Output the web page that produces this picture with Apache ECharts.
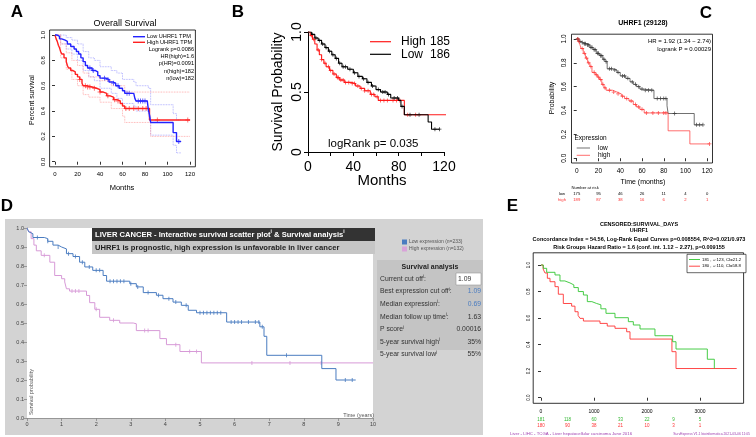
<!DOCTYPE html>
<html>
<head>
<meta charset="utf-8">
<script src="https://cdn.jsdelivr.net/npm/echarts@6/dist/echarts.min.js"></script>
<style>
html, body { margin: 0; padding: 0; background: #fff; }
#main { width: 756px; height: 437px; }
</style>
</head>
<body>
<div id="main"></div>
<script>
var FONT = "'Liberation Sans', Arial, sans-serif";

// ---- panel A (GEPIA): months -> survival, step points
var aLow = [[0,1],[2,0.99],[4,0.97],[6,0.96],[9,0.95],[11,0.93],[14,0.91],[17,0.89],[19,0.87],[21,0.85],[23,0.82],[25,0.79],[27,0.76],[29,0.74],[33,0.72],[36,0.71],[38,0.68],[40,0.66],[45,0.65],[48,0.63],[51,0.62],[54,0.60],[57,0.58],[60,0.56],[62,0.54],[70,0.53],[71,0.50],[72,0.48],[82,0.47],[83,0.41],[84,0.37],[85,0.31],[105,0.23],[108,0.16],[112,0.16]];
var aHigh = [[0,1],[1,0.97],[2,0.95],[3,0.92],[4,0.90],[5,0.87],[6,0.85],[8,0.82],[10,0.79],[11,0.76],[12,0.74],[14,0.72],[16,0.71],[18,0.69],[20,0.67],[22,0.65],[24,0.62],[25,0.60],[28,0.59],[33,0.58],[37,0.57],[40,0.55],[43,0.54],[46,0.52],[49,0.51],[52,0.49],[55,0.48],[58,0.46],[60,0.44],[62,0.42],[84,0.33],[120,0.33]];
var aLowUp = [[0,1],[5,1.0],[10,0.98],[15,0.96],[20,0.93],[25,0.87],[30,0.82],[35,0.80],[40,0.75],[50,0.72],[55,0.70],[60,0.65],[70,0.63],[72,0.60],[83,0.58],[85,0.45],[105,0.38],[108,0.33],[112,0.33]];
var aLowLo = [[0,1],[5,0.93],[10,0.89],[15,0.85],[20,0.80],[25,0.72],[30,0.67],[35,0.64],[40,0.58],[50,0.54],[55,0.50],[60,0.46],[70,0.44],[72,0.40],[83,0.36],[85,0.21],[105,0.13],[108,0.07],[112,0.07]];
var aHighUp = [[0,1],[5,0.93],[10,0.86],[15,0.80],[20,0.76],[25,0.70],[30,0.67],[40,0.64],[50,0.60],[62,0.55],[120,0.55]];
var aHighLo = [[0,1],[5,0.82],[10,0.73],[15,0.65],[20,0.60],[25,0.53],[30,0.51],[40,0.47],[50,0.42],[60,0.36],[62,0.31],[85,0.20],[120,0.20]];
var aLowCens = [31,34,44,47,52,56,64,66,74,76,78,80,110];
var aHighCens = [22,27,29,31,35,40,47,53,56,63,66,70,74,78,81,91,118];
var aTicksX = [0,20,40,60,80,100,120];
var aTicksY = [0,0.2,0.4,0.6,0.8,1.0];

// ---- panel B
var bHigh = [[0,1],[2,0.97],[4,0.94],[6,0.90],[8,0.85],[10,0.81],[12,0.77],[14,0.74],[16,0.71],[19,0.68],[22,0.65],[25,0.62],[28,0.60],[32,0.58],[38,0.57],[42,0.55],[46,0.53],[50,0.51],[55,0.48],[59,0.46],[62,0.43],[85,0.31],[123,0.31]];
var bLow = [[0,1],[3,0.98],[6,0.95],[9,0.93],[12,0.90],[15,0.87],[18,0.84],[21,0.81],[24,0.78],[27,0.74],[30,0.71],[35,0.69],[40,0.66],[44,0.63],[48,0.61],[52,0.58],[56,0.55],[60,0.52],[64,0.50],[70,0.48],[73,0.45],[80,0.43],[82,0.38],[85,0.31],[106,0.25],[109,0.19],[116,0.19]];
var bHighCens = [3,5,9,12,15,18,20,23,26,27,29,31,33,36,39,41,44,47,50,53,56,58,61,64,67,70,75,78,81,88,95,123];
var bLowCens = [4,7,10,13,16,19,22,25,28,31,33,37,41,45,49,53,57,62,66,68,71,76,79,83,90,98,112,116];

// ---- panel C (KM plotter)
var cLow = [[0,1],[2,0.98],[4,0.97],[6,0.96],[9,0.95],[12,0.93],[15,0.91],[18,0.88],[21,0.86],[24,0.83],[26,0.81],[28,0.75],[33,0.74],[37,0.72],[40,0.69],[45,0.67],[49,0.64],[52,0.62],[55,0.60],[58,0.58],[61,0.57],[71,0.50],[83,0.44],[84,0.375],[108,0.28],[116,0.28]];
var cHigh = [[0,1],[2,0.98],[3,0.95],[4,0.92],[6,0.88],[8,0.84],[10,0.80],[12,0.77],[14,0.72],[17,0.70],[19,0.68],[21,0.66],[23,0.62],[25,0.59],[27,0.57],[33,0.555],[37,0.54],[41,0.52],[44,0.50],[48,0.48],[52,0.45],[55,0.43],[58,0.41],[62,0.38],[84,0.23],[104,0.12],[122,0.12]];
var cLowCens = [1,3,5,7,8,10,11,13,14,16,17,19,20,22,23,25,27,30,32,35,38,42,44,47,51,54,57,60,63,66,69,74,77,80,82,90,110,113,116];
var cHighCens = [1,2,5,7,9,11,13,16,18,20,22,24,26,30,34,38,42,46,50,54,57,60,64,70,75,80,82,122];
var cRiskTimes = [0,20,40,60,80,100,120];
var cRiskLow = [175,95,46,26,11,4,0];
var cRiskHigh = [189,87,38,16,6,2,1];

// ---- panel D (years)
var dLow = [[0,1],[0.05,0.98],[0.1,0.97],[0.17,0.95],[0.5,0.944],[0.6,0.93],[0.75,0.91],[0.9,0.9],[1.0,0.89],[1.14,0.865],[1.33,0.85],[1.52,0.82],[1.67,0.795],[1.9,0.777],[2.2,0.75],[2.3,0.72],[2.97,0.707],[3.16,0.69],[3.36,0.66],[3.74,0.646],[3.93,0.628],[4.22,0.61],[4.46,0.593],[4.66,0.567],[4.9,0.554],[5.77,0.505],[6.73,0.48],[6.85,0.43],[6.93,0.33],[8.52,0.26],[8.93,0.2],[9.5,0.2]];
var dHigh = [[0,1],[0.05,0.98],[0.12,0.944],[0.2,0.91],[0.27,0.88],[0.41,0.856],[0.66,0.82],[0.8,0.75],[1.0,0.733],[1.09,0.716],[1.14,0.68],[1.23,0.668],[1.72,0.645],[1.81,0.607],[1.96,0.572],[2.1,0.53],[2.39,0.514],[2.68,0.5],[3.07,0.496],[3.16,0.46],[3.84,0.418],[4.03,0.386],[4.42,0.35],[5.04,0.29],[10,0.29]];
var dLowCens = [0.3,0.6,0.9,1.2,1.4,1.6,1.8,2.0,2.1,2.4,2.5,2.6,2.7,2.8,3.0,3.2,3.5,3.8,4.1,4.3,4.6,5.0,5.1,5.2,5.3,5.4,5.5,5.6,5.9,6.0,6.1,6.2,6.4,6.6,6.7,6.8,7.5,9.2,9.4];
var dHighCens = [0.5,1.3,1.4,1.5,2.0,2.5,3.4,3.5,4.3,4.7,4.9,6.5,7.6,8.5];

// ---- panel E (SurvExpress, days)
var eGreen = [[0,1],[44,0.975],[107,0.945],[264,0.925],[358,0.88],[450,0.865],[547,0.85],[620,0.83],[704,0.80],[800,0.774],[874,0.724],[960,0.71],[1050,0.70],[1130,0.67],[1226,0.636],[1396,0.603],[1648,0.573],[1742,0.548],[1868,0.518],[2150,0.467],[2484,0.422],[2547,0.367],[3138,0.29],[3270,0.22]];
var eRed = [[0,1],[40,0.97],[75,0.94],[120,0.90],[170,0.874],[264,0.837],[327,0.78],[421,0.71],[578,0.69],[641,0.648],[700,0.62],[736,0.598],[800,0.578],[1113,0.56],[1250,0.54],[1396,0.523],[1616,0.497],[1679,0.442],[2470,0.347],[2547,0.22],[3692,0.22]];
var eTicksX = [0,1000,2000,3000];
var eRiskTimes = [0,500,1000,1500,2000,2500,3000];
var eRiskGreen = [181,118,60,33,22,9,5];
var eRiskRed = [180,90,38,21,10,3,1];

var PLUS = 'path://M4,0H6V10H4ZM0,4H10V6H0Z';
var VTICK = 'path://M0,0H2V10H0Z';

function stepAt(curve, t) {
    var s = curve[0][1];
    for (var i = 0; i < curve.length; i++) {
        if (curve[i][0] <= t) s = curve[i][1];
    }
    return s;
}

function km(gi, data, color, width, type) {
    return {
        type: 'line', xAxisIndex: gi, yAxisIndex: gi, data: data, step: 'end',
        symbol: 'none', silent: true, animation: false,
        lineStyle: { color: color, width: width, type: type || 'solid' }
    };
}
function cens(gi, curve, times, color, symbol, size) {
    return {
        type: 'scatter', xAxisIndex: gi, yAxisIndex: gi, silent: true, animation: false,
        symbol: symbol, symbolSize: size,
        data: times.map(function (t) { return [t, stepAt(curve, t)]; }),
        itemStyle: { color: color }
    };
}

// boxed R-style axis
function boxAxisX(gi, min, max, ticks, fs, margin) {
    return {
        type: 'value', gridIndex: gi, min: min, max: max,
        axisLine: { show: false },
        axisTick: { show: true, customValues: ticks, length: 3, lineStyle: { color: '#000', width: 0.8 } },
        axisLabel: { customValues: ticks, fontSize: fs, margin: margin, color: '#000', fontFamily: FONT,
            formatter: function (v) { return String(v); } },
        splitLine: { show: false }
    };
}
function boxAxisY(gi, min, max, ticks, fs, margin) {
    return {
        type: 'value', gridIndex: gi, min: min, max: max,
        axisLine: { show: false },
        axisTick: { show: true, customValues: ticks, length: 3, lineStyle: { color: '#000', width: 0.8 } },
        axisLabel: { customValues: ticks, fontSize: fs, margin: margin, rotate: 90, color: '#000', fontFamily: FONT,
            formatter: function (v) { return v.toFixed(1); } },
        splitLine: { show: false }
    };
}

var chart = echarts.init(document.getElementById('main'), null, { renderer: 'canvas' });

var option = {
    animation: false,
    backgroundColor: '#fff',
    grid: [
        { left: 49.6, top: 30, width: 145.8, height: 136.8, show: true, borderColor: '#000', borderWidth: 0.8 },
        { left: 308, top: 32, width: 136, height: 120 },
        { left: 571.5, top: 34.2, width: 141, height: 128.8, show: true, borderColor: '#000', borderWidth: 0.8 },
        { left: 27, top: 228, width: 346, height: 190, show: true, backgroundColor: '#fff', borderWidth: 0, z: 1 },
        { left: 533.2, top: 252.8, width: 210.4, height: 150.5, show: true, borderColor: '#000', borderWidth: 0.8 }
    ],
    xAxis: [
        boxAxisX(0, -4.8, 124.8, aTicksX, 6, 5),
        {
            type: 'value', gridIndex: 1, min: 0, max: 120, interval: 20, offset: 5,
            axisLine: { show: true, lineStyle: { color: '#000', width: 1 } },
            axisTick: { length: 4, lineStyle: { color: '#000', width: 1 } },
            axisLabel: { customValues: [0, 40, 80, 120], fontSize: 14, margin: 3, color: '#000', fontFamily: FONT },
            splitLine: { show: false }
        },
        boxAxisX(2, -4.8, 124.8, cRiskTimes, 6.5, 5),
        {
            type: 'value', gridIndex: 3, min: 0, max: 10, interval: 1,
            axisLine: { show: true, lineStyle: { color: '#888', width: 0.8 } },
            axisTick: { length: 3, lineStyle: { color: '#888', width: 0.8 } },
            axisLabel: { fontSize: 5.5, margin: 3, color: '#444', fontFamily: FONT },
            splitLine: { show: false }
        },
        boxAxisX(4, -147, 3822, eTicksX, 5, 6)
    ],
    yAxis: [
        boxAxisY(0, -0.04, 1.04, aTicksY, 6, 3),
        {
            type: 'value', gridIndex: 1, min: 0, max: 1, interval: 0.5,
            axisLine: { show: true, lineStyle: { color: '#000', width: 1 } },
            axisTick: { length: 4, lineStyle: { color: '#000', width: 1 } },
            axisLabel: { fontSize: 14, margin: 4, rotate: 90, color: '#000', fontFamily: FONT,
                formatter: function (v) { return v === 0 ? '0' : v.toFixed(1); } },
            splitLine: { show: false }
        },
        boxAxisY(2, -0.04, 1.04, aTicksY, 6.5, 4),
        {
            type: 'value', gridIndex: 3, min: 0, max: 1, interval: 0.1,
            axisLine: { show: true, lineStyle: { color: '#888', width: 0.8 } },
            axisTick: { length: 3, lineStyle: { color: '#888', width: 0.8 } },
            axisLabel: { fontSize: 5.5, margin: 3, color: '#444', fontFamily: FONT,
                formatter: function (v) { return v.toFixed(1); } },
            splitLine: { show: false }
        },
        boxAxisY(4, -0.042, 1.092, aTicksY, 4.5, 2)
    ],
    series: [
        km(0, aLowUp, '#9b9bff', 0.8, 'dotted'),
        km(0, aLowLo, '#9b9bff', 0.8, 'dotted'),
        km(0, aHighUp, '#ff9b9b', 0.8, 'dotted'),
        km(0, aHighLo, '#ff9b9b', 0.8, 'dotted'),
        km(0, aHigh, '#ff2020', 1.4),
        km(0, aLow, '#2222ff', 1.4),
        cens(0, aHigh, aHighCens, '#ff5050', PLUS, 5),
        cens(0, aLow, aLowCens, '#4444ff', PLUS, 5),

        km(1, bHigh, '#ff1a1a', 1.1),
        km(1, bLow, '#000', 1.1),
        cens(1, bHigh, bHighCens, '#ff1a1a', PLUS, 4),
        cens(1, bLow, bLowCens, '#000', PLUS, 4),

        km(2, cLow, '#333', 0.7),
        km(2, cHigh, '#ff3030', 0.7),
        cens(2, cLow, cLowCens, '#333', PLUS, 4),
        cens(2, cHigh, cHighCens, '#ff3030', PLUS, 4),

        km(3, dHigh, '#d79ad7', 1),
        km(3, dLow, '#4a7cc0', 1),
        cens(3, dHigh, dHighCens, '#d79ad7', VTICK, [1, 4]),
        cens(3, dLow, dLowCens, '#4a7cc0', VTICK, [1, 4]),

        km(4, eRed, '#ff3333', 0.9),
        km(4, eGreen, '#33c633', 0.9)
    ]
};
chart.setOption(option);

// ---- text, legends and annotations
function txt(x, y, s, o) {
    o = o || {};
    return {
        type: 'text', x: x, y: y, z: o.z || 100, silent: true,
        rotation: o.rot ? o.rot * Math.PI / 180 : 0,
        style: {
            text: s, fill: o.color || '#000', fontSize: o.size || 10, fontFamily: FONT,
            fontWeight: o.bold ? 'bold' : 'normal', align: o.align || 'left', verticalAlign: 'middle',
            rich: o.rich
        }
    };
}
function seg(x1, y1, x2, y2, color, w) {
    return { type: 'line', z: 100, silent: true, shape: { x1: x1, y1: y1, x2: x2, y2: y2 },
        style: { stroke: color, lineWidth: w } };
}
function box(x, y, w, h, fill, stroke, z) {
    return { type: 'rect', z: z === undefined ? 100 : z, silent: true, shape: { x: x, y: y, width: w, height: h },
        style: { fill: fill, stroke: stroke || null, lineWidth: stroke ? 0.6 : 0 } };
}
function px(axis, v) { return chart.convertToPixel({ xAxisIndex: axis }, v); }

var g = [];
// panel letters
g.push(txt(17, 12, 'A', { size: 17, bold: true, align: 'center' }));
g.push(txt(238, 12, 'B', { size: 17, bold: true, align: 'center' }));
g.push(txt(706, 13, 'C', { size: 17, bold: true, align: 'center' }));
g.push(txt(7, 206, 'D', { size: 17, bold: true, align: 'center' }));
g.push(txt(512.5, 206, 'E', { size: 17, bold: true, align: 'center' }));

// A
g.push(txt(125, 24, 'Overall Survival', { size: 9, align: 'center' }));
g.push(txt(32, 100, 'Percent survival', { size: 7, align: 'center', rot: 90 }));
g.push(txt(122, 188, 'Months', { size: 7.5, align: 'center' }));
g.push(seg(133, 36.7, 145, 36.7, '#2222ff', 1.4));
g.push(seg(133, 42.3, 145, 42.3, '#ff2020', 1.4));
g.push(txt(147, 36.7, 'Low UHRF1 TPM', { size: 5.6 }));
g.push(txt(147, 42.3, 'High UHRF1 TPM', { size: 5.6 }));
['Logrank p=0.0086', 'HR(high)=1.6', 'p(HR)=0.0091', 'n(high)=182', 'n(low)=182'].forEach(function (s, i) {
    g.push(txt(194, 49.3 + i * 7.3, s, { size: 5.6, align: 'right' }));
});

// B
g.push(txt(278, 92, 'Survival Probability', { size: 14, align: 'center', rot: 90 }));
g.push(txt(382, 181, 'Months', { size: 15, align: 'center' }));
g.push(seg(370, 41.7, 391, 41.7, '#ff1a1a', 1.2));
g.push(seg(370, 54.3, 391, 54.3, '#000', 1.2));
g.push(txt(401, 41.7, 'High', { size: 12 }));
g.push(txt(430, 41.7, '185', { size: 12 }));
g.push(txt(401, 54.3, 'Low', { size: 12 }));
g.push(txt(430, 54.3, '186', { size: 12 }));
g.push(txt(328, 144, 'logRank p= 0.035', { size: 11.5 }));

// C
g.push(txt(643, 23, 'UHRF1 (29128)', { size: 7, bold: true, align: 'center' }));
g.push(txt(711, 41, 'HR = 1.92 (1.34 \u2212 2.74)', { size: 6, align: 'right' }));
g.push(txt(711, 49.5, 'logrank P = 0.00029', { size: 6, align: 'right' }));
g.push(txt(552, 98, 'Probability', { size: 7, align: 'center', rot: 90 }));
g.push(txt(643, 182, 'Time (months)', { size: 7, align: 'center' }));
g.push(txt(574.5, 138.5, 'Expression', { size: 6.5 }));
g.push(seg(576.7, 148, 590, 148, '#333', 0.7));
g.push(seg(576.7, 155.3, 590, 155.3, '#ff3030', 0.7));
g.push(txt(598, 148, 'low', { size: 6.5 }));
g.push(txt(598, 155.3, 'high', { size: 6.5 }));
g.push(txt(571.5, 188, 'Number at risk', { size: 4.2 }));
g.push(txt(562, 194, 'low', { size: 4.2, align: 'center' }));
g.push(txt(562, 199.5, 'high', { size: 4.2, align: 'center', color: '#ff3030' }));
cRiskTimes.forEach(function (t, i) {
    g.push(txt(px(2, t), 194, String(cRiskLow[i]), { size: 4.2, align: 'center' }));
    g.push(txt(px(2, t), 199.5, String(cRiskHigh[i]), { size: 4.2, align: 'center', color: '#ff3030' }));
});

// D
g.push(box(5, 219, 478, 216, '#d3d3d3', null, -10));
g.push(box(377, 260, 106, 90, '#c4c4c4', null, 90));
g.push(box(92, 228, 283, 13, '#333333', null, 95));
g.push(box(92, 241, 283, 13, '#c6c6c6', null, 95));
var supRich = { s: { fontSize: 5, fontFamily: FONT, fontWeight: 'bold', fill: '#fff', padding: [0, 0, 5, 0] } };
g.push(txt(95, 234.5, 'LIVER CANCER - Interactive survival scatter plot{s|i} & Survival analysis{s|i}',
    { size: 7.6, bold: true, color: '#fff', rich: supRich }));
g.push(txt(95, 247.5, 'UHRF1 is prognostic, high expression is unfavorable in liver cancer',
    { size: 7.6, bold: true, color: '#222' }));
g.push(txt(374, 415, 'Time (years)', { size: 5.5, align: 'right', color: '#555' }));
g.push(txt(31.5, 392, 'Survival probability', { size: 5.5, align: 'center', rot: 90, color: '#555' }));
g.push(box(402, 239.5, 5, 5, '#4a7cc0'));
g.push(box(402, 246.5, 5, 5, '#d9a3d9'));
g.push(txt(409, 242, 'Low expression (n=233)', { size: 5, color: '#555' }));
g.push(txt(409, 249, 'High expression (n=132)', { size: 5, color: '#555' }));
g.push(txt(430, 267, 'Survival analysis', { size: 7, bold: true, align: 'center', color: '#222' }));
g.push(box(456, 273, 25, 12, '#fff', '#999'));
var supG = { s: { fontSize: 4.5, fontFamily: FONT, fill: '#333', padding: [0, 0, 4, 0] } };
var tblLabels = ['Current cut off{s|i}:', 'Best expression cut off{s|i}:', 'Median expression{s|i}:',
    'Median follow up time{s|i}:', 'P score{s|i}', '5-year survival high{s|i}', '5-year survival low{s|i}'];
var tblValues = ['1.09', '1.09', '0.69', '1.63', '0.00016', '35%', '55%'];
tblLabels.forEach(function (s, i) {
    var y = 279 + i * 12.6;
    g.push(txt(380, y, s, { size: 6.8, color: '#333', rich: supG }));
    if (i === 0) {
        g.push(txt(458, y, tblValues[i], { size: 6.8, color: '#333' }));
    } else {
        g.push(txt(481, y, tblValues[i], { size: 6.8, align: 'right', color: (i === 1 || i === 2) ? '#4a7cc0' : '#333' }));
    }
});

// E
['CENSORED:SURVIVAL_DAYS', 'UHRF1',
 'Concordance Index = 54.56, Log-Rank Equal Curves p=0.008554, R^2=0.021/0.973',
 'Risk Groups Hazard Ratio = 1.6 (conf. int. 1.12 ~ 2.27), p=0.009155'].forEach(function (s, i) {
    g.push(txt(639, [224, 230.7, 239, 247.3][i], s, { size: 5.5, bold: true, align: 'center' }));
});
g.push(box(687, 254.3, 59, 18.4, '#fff', '#000'));
g.push(seg(689, 259.5, 700, 259.5, '#33c633', 0.9));
g.push(seg(689, 266.2, 700, 266.2, '#ff3333', 0.9));
g.push(txt(702, 259.5, '181 , +:123, CI=21.2', { size: 4.3 }));
g.push(txt(702, 266.2, '180 , +:110, CI=58.8', { size: 4.3 }));
eRiskTimes.forEach(function (t, i) {
    g.push(txt(px(4, t), 419.5, String(eRiskGreen[i]), { size: 4.5, align: 'center', color: '#33b833' }));
    g.push(txt(px(4, t), 425.5, String(eRiskRed[i]), { size: 4.5, align: 'center', color: '#ff3333' }));
});
g.push(txt(510, 434, 'Liver - LIHC - TCGA - Liver hepatocellular carcinoma June 2016', { size: 4.3, color: '#a040b0' }));
g.push(txt(750, 434, 'SurvExpress V1.1 bioinformatica 2021-03-06 11:05', { size: 3.4, align: 'right', color: '#a040b0' }));

chart.setOption({ graphic: { elements: g } });
window.addEventListener('resize', function () { chart.resize(); });
</script>
</body>
</html>
